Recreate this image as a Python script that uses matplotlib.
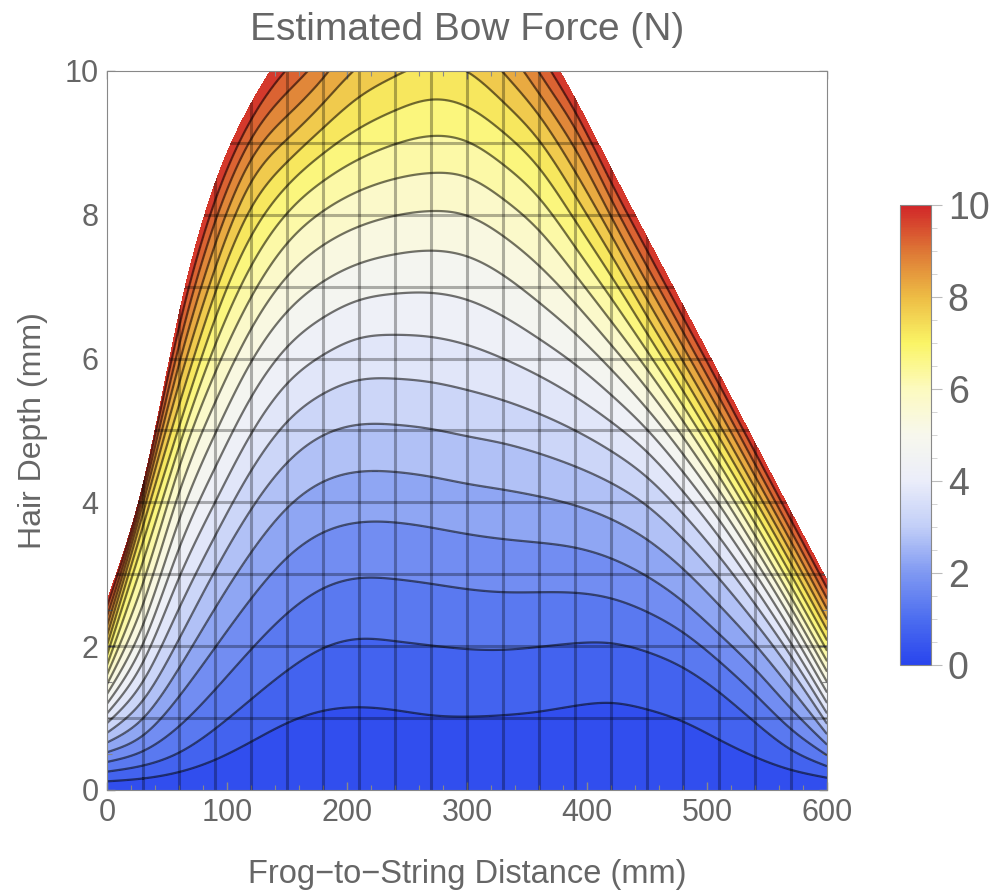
import numpy as np
import matplotlib.pyplot as plt
from matplotlib.colors import LinearSegmentedColormap, Normalize
from matplotlib.cm import ScalarMappable
from matplotlib.ticker import MultipleLocator

plt.rcParams['font.family'] = ['Liberation Sans', 'DejaVu Sans']

nan = np.nan

# frog-to-string distance of each sampled column (mm)
x_cols = np.arange(0, 601, 30)

# force levels (N) and the hair depth (mm) where each level is reached, per column
force_levels = [0.5, 1, 2, 3, 4, 5, 6, 7, 8, 9, 10]
d05 = [0.12, 0.16, 0.25, 0.42, 0.67, 0.93, 1.10, 1.15, 1.11, 1.04, 1.02,
       1.04, 1.09, 1.17, 1.21, 1.12, 0.95, 0.70, 0.46, 0.28, 0.17]
d1 = [0.255, 0.34, 0.52, 0.85, 1.26, 1.66, 1.97, 2.10, 2.07, 2.01, 1.96,
      1.95, 1.99, 2.04, 2.04, 1.92, 1.70, 1.36, 0.94, 0.56, 0.33]
d2 = [0.525, 0.76, 1.30, 1.98, 2.66, 3.23, 3.58, 3.72, 3.72, 3.65, 3.56,
      3.49, 3.44, 3.37, 3.22, 2.97, 2.62, 2.17, 1.68, 1.13, 0.63]
d3 = [0.795, 1.25, 2.10, 3.05, 3.90, 4.55, 4.93, 5.08, 5.08, 5.02, 4.92,
      4.82, 4.68, 4.50, 4.27, 3.95, 3.49, 2.94, 2.33, 1.66, 0.92]
d4 = [1.065, 1.78, 2.95, 4.00, 4.95, 5.65, 6.05, 6.28, 6.33, 6.30, 6.19,
      6.00, 5.76, 5.47, 5.12, 4.70, 4.15, 3.52, 2.81, 2.04, 1.21]
d5 = [1.335, 2.30, 3.75, 4.95, 5.95, 6.65, 7.07, 7.32, 7.45, 7.50, 7.42,
      7.16, 6.78, 6.35, 5.85, 5.30, 4.67, 3.97, 3.20, 2.38, 1.50]
d6 = [1.605, 2.88, 4.48, 5.80, 6.85, 7.60, 8.05, 8.33, 8.50, 8.58, 8.52,
      8.22, 7.78, 7.17, 6.52, 5.85, 5.13, 4.36, 3.54, 2.68, 1.79]
d7 = [1.875, 3.45, 5.05, 6.55, 7.70, 8.40, 8.85, 9.20, 9.45, 9.60, 9.50,
      9.15, 8.65, 7.92, 7.15, 6.35, 5.55, 4.72, 3.87, 2.99, 2.08]
d8 = [2.145, 3.85, 5.65, 7.25, 8.45, 9.05, 9.55, nan, nan, nan, nan,
      9.98, 9.38, 8.60, 7.72, 6.82, 5.96, 5.09, 4.20, 3.30, 2.37]
d9 = [2.415, 4.10, 6.18, 7.90, 9.05, 9.70, nan, nan, nan, nan, nan,
      nan, 9.98, 9.20, 8.22, 7.28, 6.37, 5.46, 4.53, 3.60, 2.66]
d10 = [2.685, 4.32, 6.69, 8.48, 9.58, nan, nan, nan, nan, nan, nan,
       nan, nan, 9.65, 8.68, 7.72, 6.77, 5.82, 4.86, 3.90, 2.95]

lev = np.array(force_levels, dtype=float)
depth = np.array([d05, d1, d2, d3, d4, d5, d6, d7, d8, d9, d10])


def pchip(x, y, xn):
    # monotone cubic interpolation along the last axis of y
    y = np.atleast_2d(y)
    h = np.diff(x)
    d = np.diff(y, axis=1) / h
    m = np.zeros_like(y)
    w1 = 2 * h[1:] + h[:-1]
    w2 = h[1:] + 2 * h[:-1]
    same = d[:, :-1] * d[:, 1:] > 0
    with np.errstate(divide='ignore', invalid='ignore'):
        hm = (w1 + w2) / (w1 / d[:, :-1] + w2 / d[:, 1:])
    m[:, 1:-1] = np.where(same, hm, 0.0)
    m[:, 0] = d[:, 0]
    m[:, -1] = d[:, -1]
    idx = np.clip(np.searchsorted(x, xn) - 1, 0, len(x) - 2)
    hk = h[idx]
    t = (xn - x[idx]) / hk
    h00 = 2 * t**3 - 3 * t**2 + 1
    h10 = t**3 - 2 * t**2 + t
    h01 = -2 * t**3 + 3 * t**2
    h11 = t**3 - t**2
    return (h00 * y[:, idx] + h10 * hk * m[:, idx]
            + h01 * y[:, idx + 1] + h11 * hk * m[:, idx + 1])


def spline(x, y, xn):
    # natural cubic spline along the last axis of y
    n = len(x)
    h = np.diff(x)
    A = np.zeros((n, n))
    r = np.zeros((y.shape[0], n))
    A[0, 0] = A[-1, -1] = 1.0
    for i in range(1, n - 1):
        A[i, i - 1] = h[i - 1]
        A[i, i] = 2 * (h[i - 1] + h[i])
        A[i, i + 1] = h[i]
        r[:, i] = 6 * ((y[:, i + 1] - y[:, i]) / h[i] - (y[:, i] - y[:, i - 1]) / h[i - 1])
    M = np.linalg.solve(A, r.T).T
    idx = np.clip(np.searchsorted(x, xn) - 1, 0, n - 2)
    hk = h[idx]
    a = x[idx + 1] - xn
    b = xn - x[idx]
    return (M[:, idx] * a**3 / (6 * hk) + M[:, idx + 1] * b**3 / (6 * hk)
            + (y[:, idx] / hk - M[:, idx] * hk / 6) * a
            + (y[:, idx + 1] / hk - M[:, idx + 1] * hk / 6) * b)


# levels beyond the top of a column: continue the column's last slope
for j in range(depth.shape[1]):
    col = depth[:, j]
    ok = ~np.isnan(col)
    hp = np.concatenate([[0.0], col[ok]])
    fp = np.concatenate([[0.0], lev[ok]])
    slope = (fp[-1] - fp[-2]) / (hp[-1] - hp[-2])
    col[~ok] = hp[-1] + (lev[~ok] - fp[-1]) / slope

xx = np.linspace(0, 600, 601)
hh = np.linspace(0, 10, 501)
fine_depth = spline(x_cols.astype(float), depth, xx)
fine_depth = np.maximum(fine_depth, 0.02)
for k in range(1, len(lev)):
    fine_depth[k] = np.maximum(fine_depth[k], fine_depth[k - 1] + 0.02)

F = np.empty((len(hh), len(xx)))
for i in range(len(xx)):
    hp = np.concatenate([[0.0], fine_depth[:, i]])
    fp = np.concatenate([[0.0], lev])
    f = pchip(hp, fp, np.clip(hh, 0, hp[-1]))[0]
    slope = (fp[-1] - fp[-2]) / (hp[-1] - hp[-2])
    above = hh > hp[-1]
    f[above] = fp[-1] + slope * (hh[above] - hp[-1])
    F[:, i] = f

X, H = np.meshgrid(xx, hh)

cmap = LinearSegmentedColormap.from_list('temperature', [
    (0.00, (0.16, 0.27, 0.93)),
    (0.10, (0.30, 0.43, 0.94)),
    (0.20, (0.50, 0.60, 0.95)),
    (0.30, (0.76, 0.81, 0.97)),
    (0.40, (0.92, 0.93, 0.98)),
    (0.50, (0.97, 0.97, 0.93)),
    (0.60, (0.99, 0.98, 0.75)),
    (0.70, (0.98, 0.96, 0.40)),
    (0.80, (0.93, 0.74, 0.27)),
    (0.90, (0.87, 0.47, 0.21)),
    (1.00, (0.82, 0.15, 0.16)),
])
norm = Normalize(0, 10)

fig = plt.figure(figsize=(9.93, 8.90), dpi=100)
ax = fig.add_axes([0.1078, 0.1124, 0.7251, 0.8079])

ax.contourf(X, H, F, levels=np.arange(0, 10.01, 0.5), cmap=cmap, norm=norm, zorder=1)
for xv in range(30, 600, 30):
    ax.plot([xv, xv], [0, 10], color='black', alpha=0.3, lw=2.2, zorder=2.1)
for hv in range(1, 10):
    ax.plot([0, 600], [hv, hv], color='black', alpha=0.3, lw=2.2, zorder=2.1)
ax.contour(X, H, F, levels=np.arange(0.5, 10, 0.5), colors='black',
           linewidths=1.6, alpha=0.55, zorder=2.2)
ax.contourf(X, H, F, levels=[10, 1e9], colors='white', zorder=2.3)

ax.set_xlim(0, 600)
ax.set_ylim(0, 10)
ax.xaxis.set_major_locator(MultipleLocator(100))
ax.xaxis.set_minor_locator(MultipleLocator(20))
ax.yaxis.set_major_locator(MultipleLocator(2))
ax.yaxis.set_minor_locator(MultipleLocator(0.5))
ax.tick_params(which='both', direction='in', top=True, right=True, color='#888888')
ax.tick_params(which='major', length=6, width=1, labelsize=22, labelcolor='#666666', pad=6)
ax.tick_params(which='minor', length=3.5, width=0.8)
for s in ax.spines.values():
    s.set_color('#888888')
    s.set_zorder(3)

ax.set_xlabel('Frog−to−String Distance (mm)', fontsize=23.5, color='#666666', labelpad=22)
ax.set_ylabel('Hair Depth (mm)', fontsize=23, color='#666666', labelpad=12)
ax.set_title('Estimated Bow Force (N)', fontsize=28, color='#666666', pad=22)

cax = fig.add_axes([900 / 993, (890 - 665) / 890, 31 / 993, 460 / 890])
cb = fig.colorbar(ScalarMappable(norm=norm, cmap=cmap), cax=cax)
cb.set_ticks([0, 2, 4, 6, 8, 10])
cax.yaxis.set_minor_locator(MultipleLocator(0.5))
cax.tick_params(which='major', length=8, color='#bbbbbb', labelsize=27, labelcolor='#666666', pad=4)
cax.tick_params(which='minor', length=4, color='#cccccc')
cb.outline.set_edgecolor('#888888')
cb.outline.set_linewidth(0.8)

fig.savefig('out.png', dpi=100)
